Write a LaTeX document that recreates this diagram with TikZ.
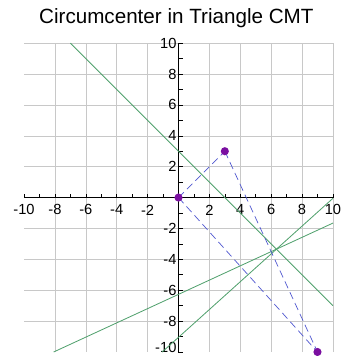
\documentclass[tikz,border=0pt]{standalone}
\usepackage{fontspec}
\setmainfont{Liberation Sans}
\usetikzlibrary{positioning,arrows.meta}

\definecolor{gridgray}{HTML}{C8C8C8}
\definecolor{bisgreen}{HTML}{4FA06C}
\definecolor{sideblue}{HTML}{5058D0}
\definecolor{ptpurple}{HTML}{7A0FA0}

\begin{document}
\begin{tikzpicture}[
  x=0.5cm, y=0.5cm,
  font=\fontsize{13.5}{15}\selectfont,
  gridline/.style={draw=gridgray, line width=.5pt},
  axisline/.style={draw=black, line width=.7pt},
  bisector/.style={draw=bisgreen, line width=.75pt},
  side/.style={draw=sideblue, line width=.65pt, dash pattern=on 7pt off 4pt},
  vertex/.style={circle, fill=ptpurple, inner sep=0pt, minimum size=7.5pt},
  ticklabel/.style={inner sep=0pt}
]
\useasboundingbox (-11.558,-10.26) rectangle (10.519,12.792);
\node[font=\fontsize{19}{22}\selectfont] (title) at (-0.14,11.62) {Circumcenter in Triangle CMT};
% grid and axes
\draw[gridline] (-10,-10) grid (10,10);
\draw[axisline] (-10,0) -- (10,0);
\draw[axisline] (0,-10) -- (0,10);
\foreach \k in {-10,...,10} {
  \draw[axisline, line width=.5pt] (\k,0) -- (\k,0.25);
  \draw[axisline, line width=.5pt] (0,\k) -- (0.3,\k);
}
\foreach \k in {-10,-8,-6,-4,-2,2,4,6,8,10} {
  \node[ticklabel] (xl\k) at (\k,-0.8) {\k};
}
\foreach \k in {-8,-6,-4,-2,2,4,6,8,10} {
  \node[ticklabel, anchor=east] (yl\k) at (-0.12,\k) {\k};
}
\node[ticklabel, anchor=east] (yl-10) at (-0.12,-9.72) {-10};
% perpendicular bisectors
\coordinate (pa1) at (-7,10);
\coordinate (pa2) at (10,-7);
\coordinate (pb1) at (-1.056,-10);
\coordinate (pb2) at (10,-0.05);
\coordinate (pc1) at (-8.083,-10);
\coordinate (pc2) at (10,-1.654);
\draw[bisector] (pa1) -- (pa2);
\draw[bisector] (pb1) -- (pb2);
\draw[bisector] (pc1) -- (pc2);
% triangle CMT
\coordinate (c) at (0,0);
\coordinate (m) at (3,3);
\coordinate (t) at (9,-10);
\draw[side] (c) -- (m);
\draw[side] (m) -- (t);
\draw[side] (c) -- (t);
\node[vertex] (C) at (c) {};
\node[vertex] (M) at (m) {};
\node[vertex] (T) at (t) {};
\end{tikzpicture}
\end{document}
